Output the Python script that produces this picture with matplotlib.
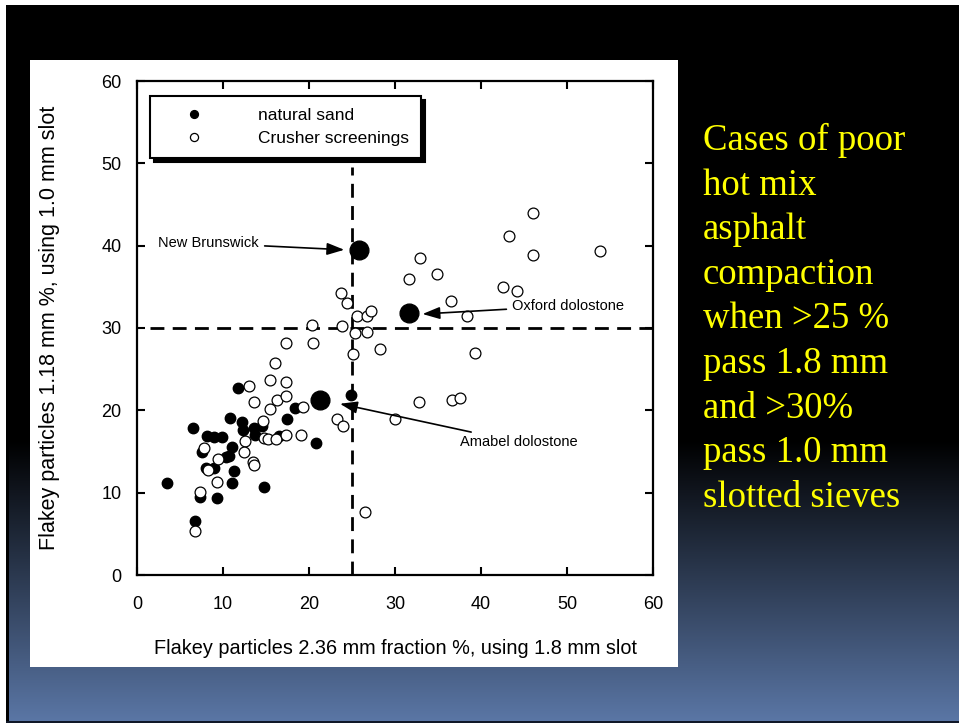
import numpy as np
import matplotlib
matplotlib.use("Agg")
import matplotlib.pyplot as plt
from matplotlib.patches import Rectangle

# ------------------ DATA ------------------
sand_x = [3.5, 6.5, 6.7, 7.3, 7.6, 8.1, 9.0, 9.9, 8.0, 8.9, 9.3, 10.3, 10.7,
          11.0, 10.8, 11.3, 11.1, 11.7, 12.2, 12.3, 13.6, 13.7, 14.5, 14.8,
          16.5, 17.4, 18.4, 20.8, 24.9]
sand_y = [11.2, 17.9, 6.6, 9.5, 14.9, 16.9, 16.8, 16.8, 13.0, 13.0, 9.3, 14.3,
          14.4, 15.6, 19.1, 12.6, 11.2, 22.7, 18.6, 17.6, 17.9, 17.0, 18.1, 10.7,
          16.9, 19.0, 20.3, 16.0, 21.9]

crush_x = [6.7, 7.3, 7.8, 9.4, 9.3, 8.2, 13.0, 13.6, 14.7, 15.5, 17.3, 16.0,
           17.3, 20.5, 15.5, 16.3, 17.3, 19.3, 12.6, 12.4, 13.5, 13.6, 14.8,
           15.2, 16.2, 17.3, 19.1, 23.3, 24.0, 25.1, 26.5, 32.9, 34.9, 31.6,
           36.5, 38.4, 39.3, 23.7, 24.4, 25.6, 26.7, 27.2, 20.4, 23.8, 25.3,
           26.7, 28.2, 46.0, 43.2, 46.0, 53.8, 42.6, 44.2, 32.8, 36.6, 37.6,
           30.0]
crush_y = [5.3, 10.1, 15.4, 14.1, 11.3, 12.7, 22.9, 21.0, 18.7, 23.7, 23.5,
           25.8, 28.2, 28.2, 20.2, 21.3, 21.8, 20.4, 16.3, 15.0, 13.7, 13.3,
           16.7, 16.5, 16.5, 17.0, 17.0, 19.0, 18.1, 26.8, 7.7, 38.5, 36.5,
           35.9, 33.3, 31.4, 27.0, 34.2, 33.0, 31.4, 31.4, 32.1, 30.4, 30.3,
           29.4, 29.5, 27.4, 44.0, 41.2, 38.9, 39.4, 35.0, 34.5, 21.0, 21.3,
           21.5, 19.0]

# named cases (big dots)
case_names = ["New Brunswick", "Oxford dolostone", "Amabel dolostone"]
case_x = [25.85, 31.6, 21.3]
case_y = [39.5, 31.8, 21.3]

limit_x = 25   # % passing 1.8 mm slot
limit_y = 30   # % passing 1.0 mm slot

side_text = ["Cases of poor", "hot mix", "asphalt", "compaction", "when >25 %",
             "pass 1.8 mm", "and >30%", "pass 1.0 mm", "slotted sieves"]
# ---------------------------------------------------------------

W, H = 959, 723
fig = plt.figure(figsize=(W / 100, H / 100), dpi=100)

# slide background: black fading into steel blue
bg = fig.add_axes([0, 0, 1, 1], zorder=-10)
bg.set_xlim(0, W)
bg.set_ylim(H, 0)
bg.axis("off")
rows = np.arange(H)
t = np.clip((rows - 440) / (720 - 440), 0, 1)[:, None]
top = np.array([0, 0, 0])
bottom = np.array([90, 118, 165]) / 255
grad = top + t * (bottom - top)
img = np.repeat(grad[:, None, :], W, axis=1)
bg.imshow(img, extent=[0, W, H, 0], aspect="auto")
bg.add_patch(Rectangle((0, 0), W, 5, color="white", lw=0))
bg.add_patch(Rectangle((0, 0), 6, H, color="white", lw=0))
bg.add_patch(Rectangle((6, 5), 2.5, H, color="black", lw=0))
bg.add_patch(Rectangle((6, H - 2), W, 2, color="#101828", lw=0))
bg.add_patch(Rectangle((30, 60), 648, 607, color="white", lw=0))

for i, line in enumerate(side_text):
    bg.text(703, 150 + i * 44.6, line, color="#ffff00", fontsize=26.5,
            family="Liberation Serif", va="baseline", ha="left")

# chart
ax = fig.add_axes([137 / W, 1 - 575 / H, 516 / W, 494 / H])
ax.set_xlim(0, 60)
ax.set_ylim(0, 60)

ax.plot([limit_x, limit_x], [0, 49.5], color="black", lw=2, dashes=(5, 3))
ax.plot([1.5, 60], [limit_y, limit_y], color="black", lw=2, dashes=(5, 3))

ax.plot(sand_x, sand_y, "o", color="black", ms=7.5, ls="none",
        label="natural sand", zorder=3)
ax.plot(crush_x, crush_y, "o", mfc="white", mec="black", mew=0.9, ms=7.8,
        ls="none", label="Crusher screenings", zorder=3)
ax.plot(case_x, case_y, "o", color="black", ms=13.5, ls="none", zorder=4)

# arrows to the named cases
txt_pos = [(14.2, 40.3), (43.6, 32.7), (37.6, 16.1)]
arrow_tip = [(24.1, 39.5), (33.2, 31.7), (23.6, 20.8)]
txt_align = ["right", "left", "left"]
for name, (tx, ty), (hx, hy), ha in zip(case_names, txt_pos, arrow_tip, txt_align):
    ax.annotate(name, xy=(hx, hy), xytext=(tx, ty), fontsize=10.5,
                family="Liberation Sans", ha=ha, va="center",
                arrowprops=dict(arrowstyle="-|>,head_length=1.0,head_width=0.35",
                                color="black", lw=1.2, shrinkA=2, shrinkB=0))

for s in ax.spines.values():
    s.set_linewidth(1.6)
ax.set_xticks(range(0, 61, 10))
ax.set_yticks(range(0, 61, 10))
ax.tick_params(direction="in", length=6, width=1.5, top=True, right=True,
               labelsize=13)
ax.tick_params(axis="x", pad=15)
ax.tick_params(axis="y", pad=11)
for lab in ax.get_xticklabels() + ax.get_yticklabels():
    lab.set_family("Liberation Sans")

ax.set_xlabel("Flakey particles 2.36 mm fraction %, using 1.8 mm slot",
              fontsize=14.3, family="Liberation Sans", labelpad=19)
ax.set_ylabel("Flakey particles 1.18 mm %, using 1.0 mm slot",
              fontsize=15.5, family="Liberation Sans", labelpad=30)

leg = ax.legend(loc="upper left", bbox_to_anchor=(0.025, 0.97),
                prop={"family": "Liberation Sans", "size": 12.5},
                markerscale=0.75, handlelength=3.7, handletextpad=1.8,
                borderpad=0.7, labelspacing=0.45, borderaxespad=0,
                fancybox=False, edgecolor="black", framealpha=1,
                shadow={"color": "black", "alpha": 1, "ox": 3, "oy": -3})
leg.get_frame().set_linewidth(1.5)
leg.set_zorder(5)

fig.savefig("out.png", dpi=100)
